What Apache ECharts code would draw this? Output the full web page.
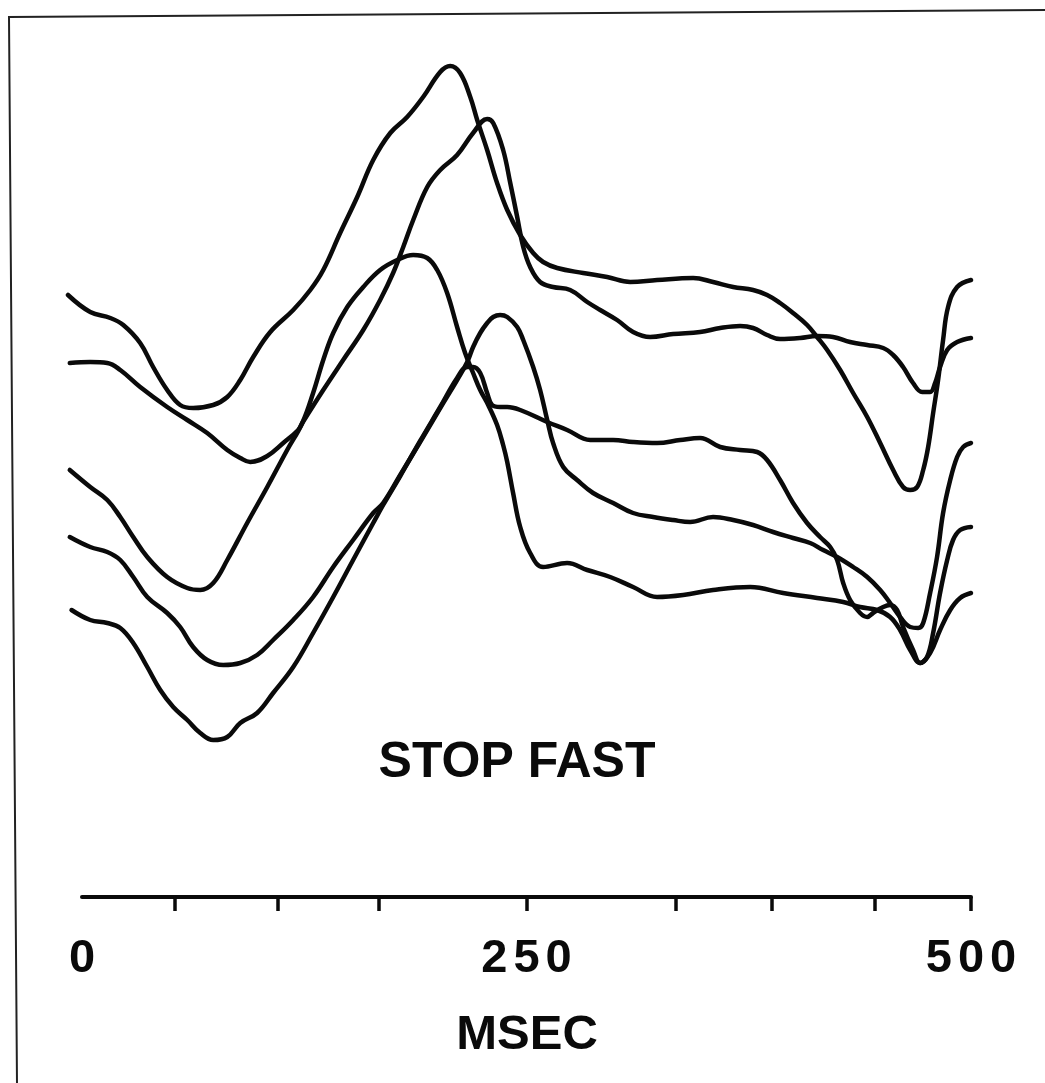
<!DOCTYPE html>
<html>
<head>
<meta charset="utf-8">
<title>STOP FAST</title>
<script src="https://cdn.jsdelivr.net/npm/echarts@6/dist/echarts.min.js"></script>
<style>
  html, body { margin: 0; padding: 0; background: #fff; }
  #chart { width: 1045px; height: 1083px; }
</style>
</head>
<body>
<div id="chart"></div>
<script>
// time in msec, amplitude in arbitrary units (0-100)
const labelTimes = [0, 250, 500]
const tickTimes = [52, 110, 167, 250, 334, 388, 446, 500]

const curveA = [
  [-8, 70.5], [4.5, 68.8], [15.8, 68.2], [23.1, 67.5], [32.6, 65.7], [39.9, 63.3], [47.8, 61.0],
  [55.1, 59.5], [62.4, 59.2], [73.7, 59.5], [81.6, 60.3], [88.9, 62.0], [96.2, 64.3], [105.8, 66.8],
  [118.7, 69.0], [128.3, 71.0], [135.6, 73.0], [145.1, 76.7], [154.7, 80.3], [163.7, 84.0],
  [173.3, 86.7], [182.8, 88.3], [191.8, 90.3], [201.4, 92.8], [207, 93.4], [212.6, 92.7],
  [218.3, 90.3], [222.2, 88.0], [227.8, 85.0], [233.4, 81.7], [239.1, 79.0], [246.4, 76.5],
  [253.7, 74.7], [259.3, 73.8], [267.2, 73.2], [281.8, 72.7], [295.3, 72.3], [308.3, 71.8],
  [323.4, 72.0], [343.7, 72.2], [354.9, 71.8], [366.2, 71.3], [377.4, 71.0], [385.3, 70.5],
  [392.6, 69.7], [399.9, 68.7], [407.8, 67.5], [413.4, 66.3], [419.1, 65.0], [426.4, 63.0],
  [433.7, 60.7], [441.6, 58.3], [448.9, 55.7], [456.2, 53.0], [461.8, 51.3], [465.8, 51.0],
  [469.7, 51.3], [473.1, 53.0], [475.9, 55.3], [478.7, 58.7], [481.5, 62.0], [484.3, 66.0],
  [487.1, 69.3], [492.2, 71.3], [500, 72.0]
]

const curveB = [
  [-7, 63.7], [4.5, 63.8], [14.1, 63.7], [21.4, 63.0], [32.6, 61.3], [47.8, 59.3], [59.1, 58.0],
  [70.3, 56.7], [81.6, 55.0], [88.9, 54.2], [94.5, 53.8], [104.1, 54.4], [113.1, 55.7],
  [121.5, 57.0], [123.8, 57.7], [135.6, 61.0], [146.8, 64.0], [158.1, 67.0], [167.6, 70.0],
  [174.9, 72.7], [180.6, 75.3], [186.2, 78.0], [194.1, 81.3], [201.4, 83.0], [210.9, 84.5],
  [219.9, 86.7], [227.8, 88.1], [231.2, 87.7], [236.8, 85.0], [240.8, 81.7], [244.7, 78.3],
  [248.1, 75.3], [252, 73.3], [257.6, 71.8], [264.9, 71.3], [274.5, 71.0], [284.1, 69.8],
  [291.4, 69.0], [300.9, 68.0], [309.9, 66.8], [319.5, 66.3], [332.4, 66.6], [347.6, 66.8],
  [358.9, 67.2], [370.1, 67.4], [377.4, 67.2], [385.3, 66.5], [392.6, 66.1], [403.9, 66.2],
  [413.4, 66.4], [422.4, 66.3], [432, 65.8], [441.6, 65.5], [450.6, 65.2], [456.2, 64.5],
  [461.8, 63.3], [467.4, 61.7], [472.5, 60.8], [477, 60.8], [479.8, 61.7], [482.6, 63.3],
  [486.6, 65.0], [492.2, 65.8], [500, 66.2]
]

const curveC = [
  [-7, 53.0], [4.5, 51.3], [14.1, 50.0], [21.4, 48.3], [28.7, 46.3], [36.6, 44.3], [47.8, 42.3],
  [59.1, 41.2], [66.4, 41.0], [73.7, 41.7], [81.6, 44.0], [92.8, 47.7], [104.1, 51.3],
  [115.3, 55.0], [123.8, 57.7], [129.9, 60.7], [135.6, 64.0], [141.2, 66.7], [149.1, 69.3],
  [158.1, 71.3], [167.6, 73.0], [177.2, 74.0], [186.2, 74.5], [194.1, 74.2], [199.7, 73.0],
  [205.3, 70.7], [210.9, 67.3], [215.4, 64.7], [219.9, 62.7], [223.9, 61.0], [228.4, 59.5],
  [233.4, 57.5], [236.8, 55.5], [239.1, 53.8], [242.4, 50.7], [246.4, 47.3], [252, 44.7],
  [259.3, 43.3], [272.8, 43.7], [284.1, 43.0], [297, 42.3], [309.9, 41.3], [323.4, 40.3],
  [338.1, 40.5], [354.9, 41.0], [375.8, 41.3], [394.3, 40.7], [413.4, 40.2], [428.1, 39.8],
  [437.6, 39.3], [447.2, 39.0], [454.5, 38.3], [460.1, 37.0], [465.8, 35.0], [471.4, 33.7],
  [477, 34.7], [482.6, 37.0], [488.3, 39.0], [493.9, 40.2], [500, 40.7]
]

const curveD = [
  [-7, 46.3], [4.5, 45.3], [14.1, 44.8], [21.4, 44.0], [28.7, 42.3], [36.6, 40.3], [47.8, 38.7],
  [55.1, 37.3], [62.4, 35.3], [70.3, 34.0], [79.3, 33.5], [88.9, 33.7], [98.4, 34.5],
  [107.4, 36.0], [118.7, 38.0], [129.9, 40.3], [141.2, 43.3], [152.4, 46.0], [163.7, 48.7],
  [169.3, 49.7], [178.9, 52.5], [190.1, 55.8], [201.4, 59.2], [210.9, 62.0], [216.6, 63.8],
  [219.9, 65.3], [223.9, 66.7], [227.8, 67.7], [231.2, 68.3], [235.1, 68.5], [239.1, 68.3],
  [244.7, 67.3], [248.1, 66.0], [253.7, 63.3], [257.6, 61.0], [261.6, 58.0], [264.9, 55.7],
  [270.6, 53.3], [278.4, 52.0], [287.4, 50.7], [298.7, 49.7], [309.9, 48.7], [321.2, 48.3],
  [332.4, 48.0], [342, 47.8], [354.9, 48.3], [366.2, 48.0], [377.4, 47.5], [388.7, 46.8],
  [399.9, 46.2], [409.5, 45.7], [416.8, 45.0], [424.7, 44.3], [433.7, 43.3], [441.6, 42.3],
  [448.9, 41.0], [454.5, 39.7], [460.1, 38.3], [465.8, 37.3], [470.3, 37.2], [473.1, 37.7],
  [477, 40.7], [480.9, 44.3], [484.3, 48.7], [488.3, 52.0], [492.2, 54.3], [495.6, 55.3],
  [500, 55.7]
]

const curveE = [
  [-6, 39.0], [4.5, 38.0], [14.1, 37.7], [21.4, 37.2], [28.7, 35.7], [36.6, 33.3], [43.9, 31.0],
  [51.2, 29.3], [59.1, 28.0], [66.4, 26.7], [73.7, 26.0], [81.6, 26.3], [88.9, 27.7],
  [98.4, 28.7], [107.4, 30.7], [118.7, 33.3], [129.9, 36.7], [141.2, 40.3], [152.4, 44.0],
  [163.7, 47.7], [169.3, 49.5], [178.9, 52.4], [190.1, 55.9], [201.4, 59.3], [210.9, 62.2],
  [216.6, 63.3], [219.9, 63.3], [223.9, 62.7], [227.8, 60.7], [230.6, 59.5], [235.1, 59.3],
  [239.1, 59.3], [246.4, 59.0], [261.6, 57.8], [272.8, 57.0], [285.8, 56.0], [298.7, 56.0],
  [309.9, 55.8], [323.4, 55.7], [336.4, 56.0], [347.6, 56.2], [358.9, 55.3], [370.1, 55.0],
  [379.7, 54.8], [385.3, 54.0], [392.6, 52.0], [399.9, 49.7], [407.8, 47.7], [415.1, 46.3],
  [420.8, 45.3], [424.7, 44.0], [428.1, 41.7], [432, 40.0], [437.6, 38.7], [441.6, 38.3],
  [444.9, 38.7], [450.6, 39.3], [454.5, 39.5], [458.4, 39.0], [461.8, 37.3], [467.4, 35.0],
  [471.4, 33.7], [475.3, 34.3], [478.7, 36.7], [482.6, 40.7], [486.6, 44.0], [489.9, 46.0],
  [493.9, 47.0], [500, 47.3]
]

const curves = [curveA, curveB, curveC, curveD, curveE]

const FONT = '"Liberation Sans", Arial, Helvetica, sans-serif'
const INK = '#0a0a0a'

// spread the characters a little, like the original lettering
const spaced = (s) => String(s).split('').map(ch => ch === ' ' ? '{sp| }' : '{c|' + ch + '}').join('')

const chart = echarts.init(document.getElementById('chart'), null, { renderer: 'canvas' })

const option = {
  backgroundColor: '#fff',
  animation: false,
  grid: [
    // traces
    { left: 68, right: 74, top: 0, height: 1000 },
    // time axis
    { left: 82, right: 74, top: 880, height: 17 }
  ],
  xAxis: [
    { gridIndex: 0, type: 'value', min: -8, max: 500, show: false },
    {
      gridIndex: 1,
      type: 'value',
      min: 0,
      max: 500,
      axisLine: { show: true, lineStyle: { color: INK, width: 4, cap: 'round' } },
      axisTick: {
        show: true,
        customValues: tickTimes,
        length: 14,
        lineStyle: { color: INK, width: 3.5 }
      },
      axisLabel: {
        customValues: labelTimes,
        margin: 39,
        formatter: (v) => spaced(v),
        rich: {
          c: {
            fontFamily: FONT,
            fontWeight: 'bold',
            fontSize: 47,
            color: INK,
            padding: [0, 3, 0, 3]
          }
        }
      },
      splitLine: { show: false }
    }
  ],
  yAxis: [
    { gridIndex: 0, type: 'value', min: 0, max: 100, show: false },
    { gridIndex: 1, type: 'value', min: 0, max: 1, show: false }
  ],
  series: curves.map((c, i) => ({
    name: 'trace ' + (i + 1),
    type: 'line',
    xAxisIndex: 0,
    yAxisIndex: 0,
    data: c,
    showSymbol: false,
    smooth: 0.4,
    clip: false,
    lineStyle: { color: INK, width: 4.5, cap: 'round', join: 'round' }
  })),
  graphic: [
    {
      type: 'polyline',
      shape: { points: [[1045, 10], [9, 17], [17, 1083]] },
      style: { stroke: '#222', lineWidth: 2, fill: null }
    },
    {
      type: 'text',
      x: 517,
      y: 763,
      style: {
        text: 'STOP FAST',
        font: 'bold 50px ' + FONT,
        fill: INK,
        textAlign: 'center',
        textVerticalAlign: 'middle'
      }
    },
    {
      type: 'text',
      x: 527,
      y: 1035,
      style: {
        text: 'MSEC',
        font: 'bold 49px ' + FONT,
        fill: INK,
        textAlign: 'center',
        textVerticalAlign: 'middle'
      }
    }
  ]
}

chart.setOption(option)

window.addEventListener('resize', () => chart.resize())
</script>
</body>
</html>
